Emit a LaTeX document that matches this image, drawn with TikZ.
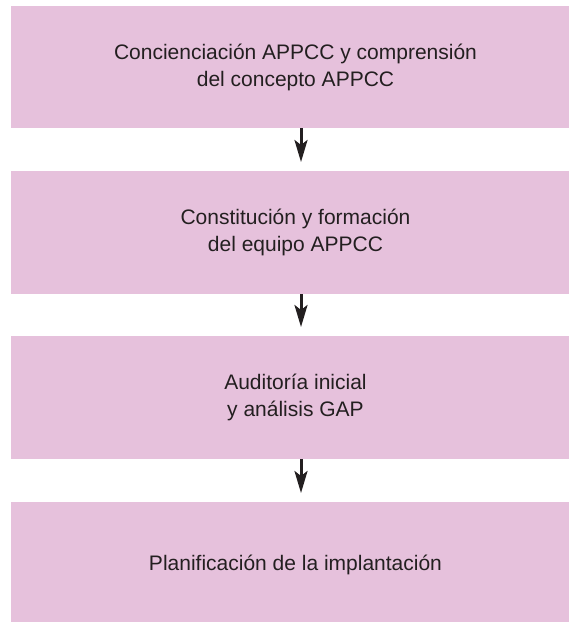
\documentclass[tikz,border=0pt]{standalone}
\usepackage{fontspec}
\setmainfont{Liberation Sans}
\usetikzlibrary{arrows.meta,calc}
\definecolor{boxpink}{RGB}{230,193,220}
\definecolor{txt}{RGB}{35,31,32}
\begin{document}
\begin{tikzpicture}[x=1pt,y=-1pt,
  stepbox/.style={fill=boxpink,draw=none,minimum width=558pt,inner sep=0pt,outer sep=0pt},
  steptext/.style={text=txt,align=center,font=\fontsize{21}{27}\selectfont,inner sep=0pt},
  flow/.style={draw=txt,line width=3pt,-{Stealth[length=22pt,width=13pt,inset=5pt]},shorten >=9pt}]
\useasboundingbox (0,0) rectangle (570,622);
\node[stepbox,minimum height=122pt] (b1) at (290,67) {};
\node[stepbox,minimum height=123pt] (b2) at (290,232.5) {};
\node[stepbox,minimum height=123pt] (b3) at (290,397.5) {};
\node[stepbox,minimum height=120pt] (b4) at (290,562) {};
\node[steptext] (t1) at ($(b1.center)+(5.5,0)$) {Concienciación APPCC y comprensión\\del concepto APPCC};
\node[steptext] (t2) at ($(b2.center)+(5.5,0)$) {Constitución y formación\\del equipo APPCC};
\node[steptext] (t3) at ($(b3.center)+(5.5,0)$) {Auditoría inicial\\y análisis GAP};
\node[steptext] (t4) at ($(b4.center)+(5.5,3)$) {Planificación de la implantación};
\draw[flow] (b1.south -| 301,0) -- (b2.north -| 301,0);
\draw[flow] (b2.south -| 301,0) -- (b3.north -| 301,0);
\draw[flow] (b3.south -| 301,0) -- (b4.north -| 301,0);
\end{tikzpicture}
\end{document}
